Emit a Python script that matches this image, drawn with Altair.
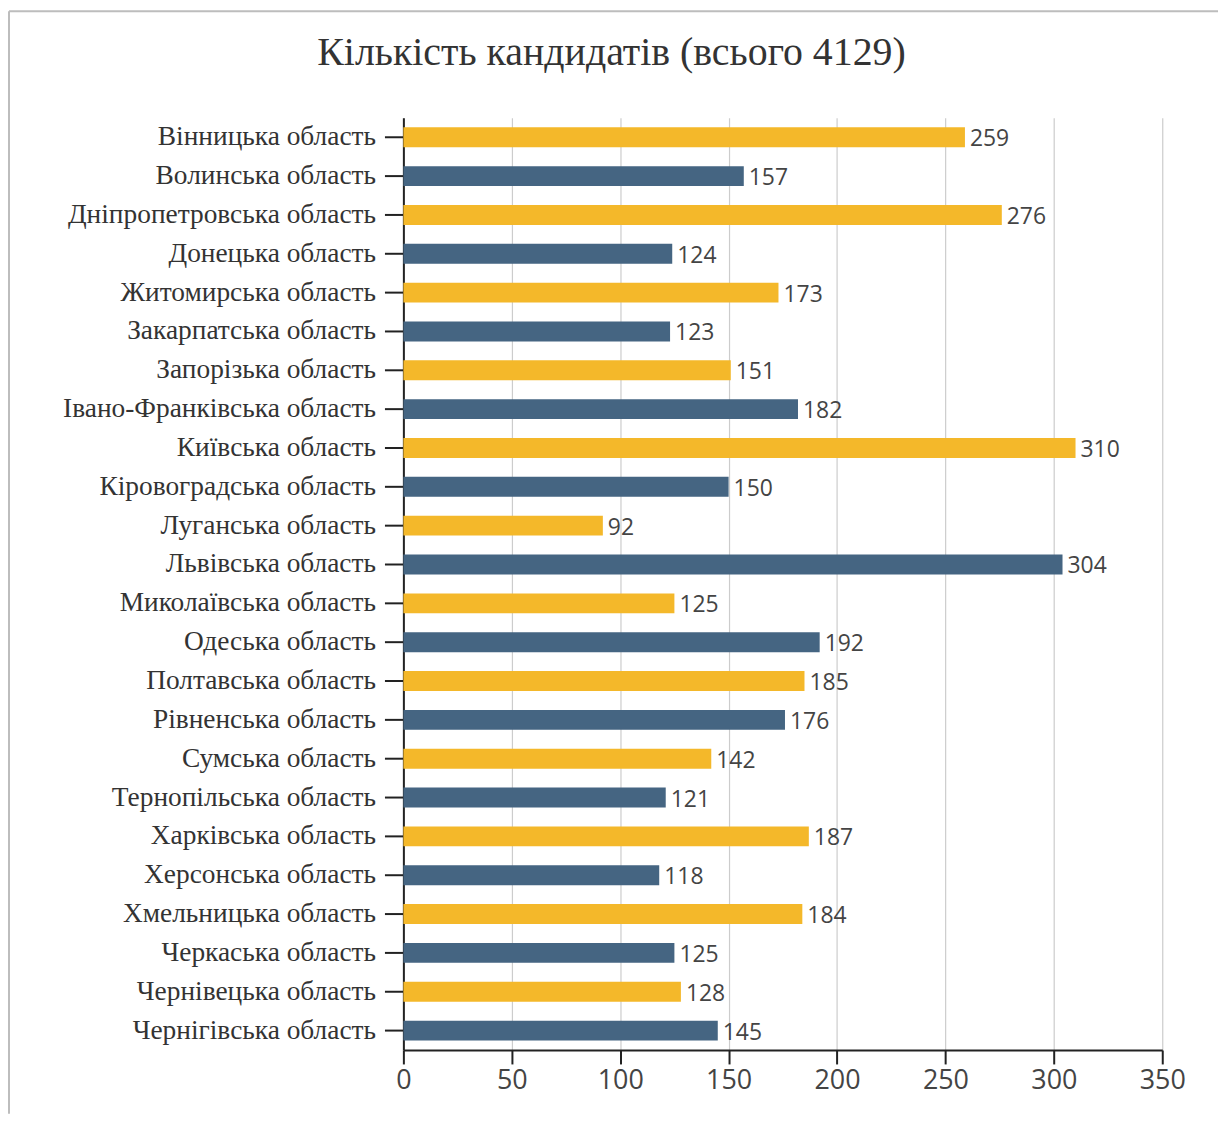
import altair as alt
import pandas as pd

title_text = "Кількість кандидатів (всього 4129)"
regions = ["Вінницька область", "Волинська область", "Дніпропетровська область",
           "Донецька область", "Житомирська область", "Закарпатська область",
           "Запорізька область", "Івано-Франківська область", "Київська область",
           "Кіровоградська область", "Луганська область", "Львівська область",
           "Миколаївська область", "Одеська область", "Полтавська область",
           "Рівненська область", "Сумська область", "Тернопільська область",
           "Харківська область", "Херсонська область", "Хмельницька область",
           "Черкаська область", "Чернівецька область", "Чернігівська область"]
values = [259, 157, 276, 124, 173, 123, 151, 182, 310, 150, 92, 304,
          125, 192, 185, 176, 142, 121, 187, 118, 184, 125, 128, 145]
groups = ["a" if i % 2 == 0 else "b" for i in range(len(regions))]
x_ticks = [0, 50, 100, 150, 200, 250, 300, 350]

df = pd.DataFrame({"region": regions, "value": values, "group": groups})

y = alt.Y("region:N", sort=regions, title=None,
          axis=alt.Axis(labelFont="Liberation Serif", labelFontSize=27.5, labelColor="#333333",
                        labelLimit=0,
                        domainColor="#222222", domainWidth=2, tickColor="#222222",
                        tickWidth=2, tickSize=19, labelPadding=9, grid=False))
x = alt.X("value:Q", title=None, scale=alt.Scale(domain=[0, 350]),
          axis=alt.Axis(values=x_ticks, labelFlush=False,
                        labelFont="Open Sans", labelFontSize=27, labelColor="#444444",
                        domainColor="#222222", domainWidth=2, tickColor="#222222",
                        tickWidth=2, tickSize=14, labelPadding=4,
                        grid=True, gridColor="#cccccc", gridWidth=1.2))

bars = alt.Chart(df).mark_bar(size=20).encode(
    x=x, y=y,
    color=alt.Color("group:N", scale=alt.Scale(domain=["a", "b"], range=["#F4B82A", "#456582"]),
                    legend=None),
)
labels = alt.Chart(df).mark_text(align="left", baseline="middle", dx=5, dy=2,
                                 font="Open Sans", fontSize=23, color="#444444").encode(
    x="value:Q", y=alt.Y("region:N", sort=regions), text="value:Q")

one = pd.DataFrame({"t": [title_text]})
title = alt.Chart(one).mark_text(align="center", baseline="middle", font="Liberation Serif",
                                 fontSize=40, color="#333333", clip=False).encode(
    x=alt.value(209), y=alt.value(-65), text="t:N")
left_edge = alt.Chart(one).mark_rule(color="#bdbdbd", strokeWidth=2, clip=False).encode(
    x=alt.value(-396), y=alt.value(-107), y2=alt.value(1000))
top_edge = alt.Chart(one).mark_rule(color="#bdbdbd", strokeWidth=2, clip=False).encode(
    x=alt.value(-396), x2=alt.value(818), y=alt.value(-107))

chart = (bars + labels + title + left_edge + top_edge).properties(
    width=762, height=936,
    padding={"left": 0, "top": 0, "right": 5, "bottom": 5},
).configure(background="white").configure_view(stroke=None)

chart.save("out.html", embed_options={"renderer": "svg", "actions": False})
